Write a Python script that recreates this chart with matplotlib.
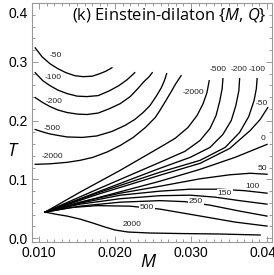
import matplotlib
matplotlib.use("Agg")
import matplotlib.pyplot as plt
from matplotlib.ticker import MultipleLocator
from matplotlib.transforms import ScaledTranslation

plt.rcParams['font.family'] = ['Liberation Sans', 'DejaVu Sans']
plt.rcParams['mathtext.fontset'] = 'custom'
plt.rcParams['mathtext.it'] = 'Open Sans:italic'
plt.rcParams['mathtext.rm'] = 'Open Sans'

# upper-left arcs (negative values, left branch)
m_n50_l = [0.0095, 0.0104, 0.01145, 0.0125, 0.01355, 0.0147, 0.0158, 0.017, 0.018, 0.0188, 0.0196]
t_n50_l = [0.3237, 0.3085, 0.2966, 0.2881, 0.2814, 0.2763, 0.2746, 0.2754, 0.2797, 0.2839, 0.2898]
m_n100_l = [0.0095, 0.0105, 0.01145, 0.0125, 0.0137, 0.015, 0.0163, 0.0178, 0.0193, 0.0205, 0.0216, 0.0226]
t_n100_l = [0.2814, 0.2678, 0.2593, 0.2517, 0.2458, 0.2415, 0.2407, 0.2424, 0.2508, 0.2593, 0.2695, 0.2814]
m_n200_l = [0.0095, 0.0105, 0.01145, 0.0125, 0.0137, 0.015, 0.0163, 0.0178, 0.0193, 0.0207, 0.022,
            0.023, 0.0238, 0.0245, 0.0249]
t_n200_l = [0.239, 0.2305, 0.2237, 0.2178, 0.2136, 0.211, 0.2102, 0.2127, 0.2203, 0.2288, 0.2407,
            0.2542, 0.2661, 0.2746, 0.2814]
m_n500_l = [0.0095, 0.0105, 0.01145, 0.0125, 0.0137, 0.0157, 0.0176, 0.0196, 0.0213, 0.0226, 0.0237,
            0.0246, 0.0254, 0.0261, 0.0265, 0.0268]
t_n500_l = [0.1847, 0.1805, 0.1771, 0.1746, 0.172, 0.1712, 0.1737, 0.1814, 0.1915, 0.2017, 0.2136,
            0.2254, 0.2407, 0.2559, 0.2678, 0.2797]
m_n2000_l = [0.0095, 0.01145, 0.0137, 0.0154, 0.0171, 0.019, 0.0207, 0.0224, 0.024, 0.0253, 0.0259,
             0.0267, 0.0274, 0.028, 0.0287]
t_n2000_l = [0.1254, 0.1263, 0.1288, 0.1322, 0.1373, 0.1466, 0.1576, 0.1712, 0.1881, 0.2051, 0.2169,
             0.2339, 0.2492, 0.2627, 0.2763]

# fan of curves from the common point
m_n2000_r = [0.0108, 0.0154, 0.0207, 0.0259, 0.0279, 0.0296, 0.0308, 0.0316, 0.0321, 0.0324]
t_n2000_r = [0.0441, 0.078, 0.1153, 0.1542, 0.1695, 0.1881, 0.2085, 0.2288, 0.2475, 0.2678]
m_n500_r = [0.0108, 0.018, 0.0259, 0.0292, 0.0312, 0.0325, 0.0333, 0.0338, 0.0341, 0.0342]
t_n500_r = [0.0441, 0.0847, 0.1288, 0.1475, 0.1661, 0.1864, 0.2085, 0.2339, 0.2542, 0.2712]
m_n200_r = [0.0108, 0.018, 0.0259, 0.0299, 0.0325, 0.0342, 0.0353, 0.0359, 0.0363, 0.0364]
t_n200_r = [0.0441, 0.0797, 0.1186, 0.1373, 0.1542, 0.1763, 0.2, 0.2254, 0.2508, 0.2712]
m_n100_r = [0.0108, 0.018, 0.0259, 0.0312, 0.0345, 0.0364, 0.0376, 0.0383, 0.0386, 0.0387]
t_n100_r = [0.0441, 0.078, 0.1119, 0.1322, 0.1542, 0.1797, 0.2068, 0.2339, 0.2542, 0.2712]
m_n50_r = [0.0108, 0.018, 0.0259, 0.0312, 0.0351, 0.0378, 0.0391, 0.0401]
t_n50_r = [0.0441, 0.0754, 0.1068, 0.1271, 0.1525, 0.1831, 0.2017, 0.222]
m_0 = [0.0108, 0.018, 0.0259, 0.0312, 0.0358, 0.04]
t_0 = [0.0441, 0.0695, 0.0966, 0.1169, 0.1373, 0.1593]
m_50 = [0.0108, 0.0154, 0.0207, 0.0259, 0.0312, 0.0351, 0.0378, 0.04]
t_50 = [0.0441, 0.061, 0.0763, 0.0881, 0.1008, 0.1076, 0.1102, 0.1085]
m_100 = [0.0108, 0.0154, 0.0207, 0.0259, 0.0299, 0.0338, 0.0371, 0.04]
t_100 = [0.0441, 0.0593, 0.0729, 0.0797, 0.0831, 0.0831, 0.0805, 0.0763]
m_150 = [0.0108, 0.0154, 0.0207, 0.0259, 0.0299, 0.0332, 0.0364, 0.04]
t_150 = [0.0441, 0.0576, 0.0669, 0.072, 0.0729, 0.0695, 0.0636, 0.0576]
m_250 = [0.0108, 0.0154, 0.0207, 0.0259, 0.0292, 0.0325, 0.0364, 0.04]
t_250 = [0.0441, 0.0542, 0.061, 0.0636, 0.0619, 0.0559, 0.0458, 0.0373]
m_500 = [0.0108, 0.0141, 0.0176, 0.022, 0.0259, 0.0305, 0.0358, 0.04]
t_500 = [0.0441, 0.0517, 0.0551, 0.0542, 0.0492, 0.039, 0.0271, 0.0203]
m_2000 = [0.0108, 0.0121, 0.0137, 0.0154, 0.0171, 0.0187, 0.02, 0.0217, 0.0246, 0.0286, 0.0338, 0.0391]
t_2000 = [0.0441, 0.0407, 0.0373, 0.0322, 0.0254, 0.0186, 0.0136, 0.0102, 0.0085, 0.0076, 0.0068, 0.0051]

# curve labels
label_text = ['-50', '-100', '-200', '-500', '-2000', '-2000', '-500', '-200', '-100', '-50',
              '0', '50', '100', '150', '250', '500', '2000']
label_m = [0.01224, 0.01184, 0.01197, 0.01171, 0.01171, 0.03026, 0.03355, 0.03632, 0.03868, 0.03934,
           0.03947, 0.03934, 0.03803, 0.03447, 0.03066, 0.02421, 0.02224]
label_t = [0.3102, 0.2729, 0.2322, 0.1864, 0.139, 0.2475, 0.2864, 0.2864, 0.2864, 0.2288,
           0.1695, 0.1186, 0.0881, 0.0763, 0.0627, 0.0525, 0.0237]
inline_labels = ['150', '250', '500']

curves = [(m_n50_l, t_n50_l), (m_n100_l, t_n100_l), (m_n200_l, t_n200_l), (m_n500_l, t_n500_l),
          (m_n2000_l, t_n2000_l), (m_n2000_r, t_n2000_r), (m_n500_r, t_n500_r), (m_n200_r, t_n200_r),
          (m_n100_r, t_n100_r), (m_n50_r, t_n50_r), (m_0, t_0), (m_50, t_50), (m_100, t_100),
          (m_150, t_150), (m_250, t_250), (m_500, t_500), (m_2000, t_2000)]

fig = plt.figure(figsize=(2.74, 2.75), dpi=100)
ax = fig.add_axes([32 / 274, 1 - 242 / 275, 240 / 274, 239 / 275])

for m, t in curves:
    ax.plot(m, t, color='black', lw=0.95, solid_joinstyle='round')

for txt, m, t in zip(label_text, label_m, label_t):
    box = None
    if txt in inline_labels:
        box = dict(facecolor='white', edgecolor='none', pad=0.4)
    ax.text(m, t, txt, fontsize=6, color='#222222', ha='center', va='center', bbox=box, zorder=3)

ax.set_xlim(0.00908, 0.04066)
ax.set_ylim(-0.0068, 0.4)
ax.set_xticks([0.01, 0.02, 0.03, 0.04])
ax.set_xticklabels(['0.010', '0.020', '0.030', '0.040'])
ax.set_yticks([0.0, 0.1, 0.2, 0.3, 0.4])
ax.set_yticklabels(['0.0', '0.1', '0.2', '0.3', '0.4'])
ax.xaxis.set_minor_locator(MultipleLocator(0.001))
ax.yaxis.set_minor_locator(MultipleLocator(0.02))
ax.tick_params(which='both', direction='in', top=True, right=True, color='#999999', width=0.7,
               labelsize=10, labelcolor='black')
ax.tick_params(which='major', length=4, pad=3)
ax.tick_params(which='minor', length=2)
top_label = ax.yaxis.get_majorticklabels()[-1]
top_label.set_va('top')
top_label.set_transform(top_label.get_transform() + ScaledTranslation(0, -0.04, fig.dpi_scale_trans))
for s in ax.spines.values():
    s.set_color('#999999')
    s.set_linewidth(0.8)

ax.set_xlabel('M', fontsize=13, style='italic', family='Open Sans', va='center')
ax.xaxis.set_label_coords(0.483, -0.084)
ax.set_ylabel('T', fontsize=13, style='italic', family='Open Sans', rotation=0, va='center', ha='center')
ax.yaxis.set_label_coords(-0.083, 0.381)

ax.text(0.979, 0.95, r"(k) Einstein-dilaton {$M$, $Q$}", transform=ax.transAxes,
        fontsize=11.9, family='Open Sans', ha='right', va='center')

fig.savefig('out.png', dpi=100)
